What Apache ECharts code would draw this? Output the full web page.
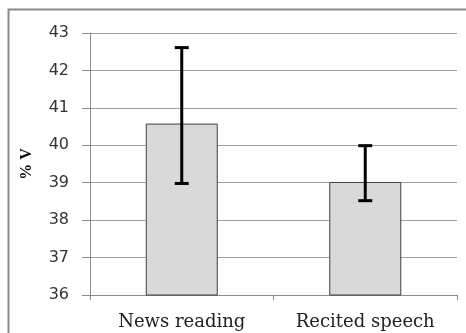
<!DOCTYPE html>
<html>
<head>
<meta charset="utf-8">
<script src="https://cdn.jsdelivr.net/npm/echarts@6/dist/echarts.min.js"></script>
<style>html,body{margin:0;padding:0;background:#fff;}#c{width:466px;height:333px;}</style>
</head>
<body>
<div id="c"></div>
<script>
var categories = ['News reading', 'Recited speech'];
var meanValues = [40.58, 39.02];
var errLower = [38.98, 38.52];
var errUpper = [42.61, 39.99];
var yTicks = [36, 37, 38, 39, 40, 41, 42, 43];

var chart = echarts.init(document.getElementById('c'));
var errData = categories.map(function (c, i) { return [i, errLower[i], errUpper[i]]; });

chart.setOption({
  animation: false,
  backgroundColor: '#ffffff',
  graphic: [{
    type: 'rect', silent: true, z: -1,
    shape: { x: 8.5, y: 9.5, width: 520, height: 400 },
    style: { fill: 'none', stroke: '#8c8c8c', lineWidth: 2 }
  }],
  grid: { left: 90, right: 9, top: 33, bottom: 38 },
  xAxis: {
    type: 'category',
    data: categories,
    boundaryGap: true,
    axisLine: { lineStyle: { color: '#8c8c8c', width: 1 } },
    axisTick: { show: true, length: 5, lineStyle: { color: '#8c8c8c' } },
    axisLabel: { margin: 18, color: '#222', fontFamily: 'DejaVu Serif', fontSize: 18 }
  },
  yAxis: {
    type: 'value',
    min: yTicks[0], max: yTicks[yTicks.length - 1], interval: 1,
    name: '% V',
    nameLocation: 'middle',
    nameRotate: 90,
    nameGap: 55,
    nameTextStyle: { fontFamily: 'Liberation Serif', fontWeight: 'bold', fontSize: 16, color: '#111' },
    axisLine: { show: true, lineStyle: { color: '#8c8c8c', width: 1 } },
    axisTick: { show: true, length: 8, lineStyle: { color: '#8c8c8c' } },
    axisLabel: { margin: 21, color: '#333', fontFamily: 'DejaVu Sans', fontSize: 16 },
    splitLine: { show: true, lineStyle: { color: '#a0a0a0', width: 1 } }
  },
  series: [{
    type: 'bar',
    data: meanValues,
    barWidth: 72,
    itemStyle: { color: '#d9d9d9', borderColor: '#404040', borderWidth: 1 },
    z: 2
  }, {
    type: 'custom',
    data: errData,
    z: 5,
    renderItem: function (params, api) {
      var x = api.coord([api.value(0), api.value(1)])[0];
      var lo = api.coord([api.value(0), api.value(1)])[1];
      var hi = api.coord([api.value(0), api.value(2)])[1];
      var hw = 7;
      var st = { stroke: '#000', lineWidth: 3 };
      return {
        type: 'group',
        children: [
          { type: 'line', shape: { x1: x, y1: lo, x2: x, y2: hi }, style: st },
          { type: 'line', shape: { x1: x - hw, y1: lo, x2: x + hw, y2: lo }, style: st },
          { type: 'line', shape: { x1: x - hw, y1: hi, x2: x + hw, y2: hi }, style: st }
        ]
      };
    }
  }]
});
</script>
</body>
</html>
